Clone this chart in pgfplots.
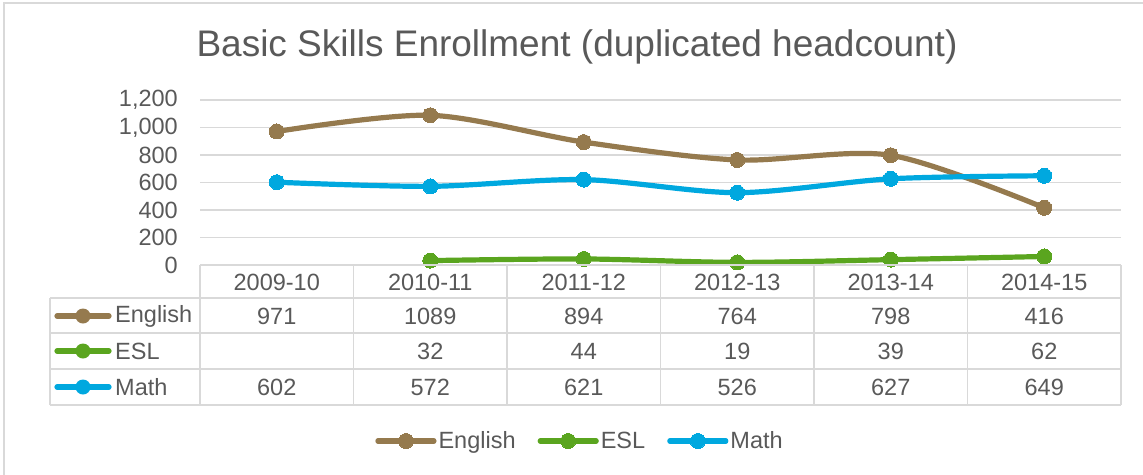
\documentclass[border=0pt]{standalone}
\usepackage{pgfplots}
\pgfplotsset{compat=1.18}
\usepackage{pgfplotstable}
\usepackage{fontspec}
\setmainfont{Liberation Sans}
\definecolor{engc}{HTML}{957A4E}
\definecolor{eslc}{HTML}{5AA51F}
\definecolor{mathc}{HTML}{00A8DF}
\definecolor{txt}{HTML}{595959}
\definecolor{grd}{HTML}{D9D9D9}
\newcommand{\tfont}{\fontsize{23.5}{28}\selectfont}

\pgfplotstableread{
x English ESL Math
0 971  nan 602
1 1089 32  572
2 894  44  621
3 764  19  526
4 798  39  627
5 416  62  649
}\datatable

\begin{document}
\begin{tikzpicture}
\useasboundingbox (0pt,0pt) rectangle (1143pt,-474pt);
\draw[grd, line width=1.5pt] (4pt,-600pt) -- (4pt,-3pt) -- (1300pt,-3pt);
\node[text=txt, font=\fontsize{37}{44}\selectfont, inner sep=0pt] at (577pt,-47pt) {Basic Skills Enrollment (duplicated headcount)};

\begin{axis}[
  at={(200pt,-265pt)}, anchor=south west,
  scale only axis, width=921pt, height=165pt,
  xmin=-0.5, xmax=5.5, ymin=0, ymax=1200,
  ytick={0,200,...,1200}, xtick=\empty,
  ymajorgrids, grid style={grd, line width=1.5pt},
  axis line style={draw=none},
  major tick length=0pt,
  clip=false,
  /pgf/number format/assume math mode=true,
  /pgf/number format/1000 sep={,},
  yticklabel style={font=\tfont, text=txt, inner sep=0pt, anchor=east, xshift=-22pt},
  every axis plot/.append style={line width=5.2pt, smooth, mark=*, mark size=7.5pt, line cap=round, line join=round},
  legend columns=3,
  legend style={at={(0.4126,-1.0667)}, anchor=center, draw=none, fill=none,
    font=\tfont, text=txt,
    nodes={inner sep=2pt},
    /tikz/every even column/.append style={column sep=20pt}},
  legend image code/.code={\draw[mark repeat=2,mark phase=2,#1] plot coordinates {(0pt,0pt)(28pt,0pt)(56pt,0pt)};},
]
\addplot[color=engc, line width=5.2pt, mark options={fill=engc, draw=engc, line width=0pt}] table[x=x, y=English] {\datatable};
\addlegendentry{English}
\addplot[color=eslc, line width=5.2pt, mark options={fill=eslc, draw=eslc, line width=0pt}] table[x=x, y=ESL] {\datatable};
\addlegendentry{ESL}
\addplot[color=mathc, line width=5.2pt, mark options={fill=mathc, draw=mathc, line width=0pt}] table[x=x, y=Math] {\datatable};
\addlegendentry{Math}
\end{axis}

\begin{scope}[x=1pt, y=1pt]
  \begin{scope}[grd, line width=1.5pt]
    \draw (200,-265) -- (1121,-265);
    \foreach \yy in {298,333,369,405} \draw (50,-\yy) -- (1121,-\yy);
    \draw (50,-298) -- (50,-405);
    \foreach \xx in {200,353.5,507,660.5,814,967.5,1121} \draw (\xx,-265) -- (\xx,-405);
  \end{scope}
  \begin{scope}[every node/.style={text=txt, font=\tfont, inner sep=0pt}]
    \foreach \lab [count=\i from 0] in {2009-10,2010-11,2011-12,2012-13,2013-14,2014-15}
      \node at (276.75+153.5*\i,-282) {\lab};
    \foreach \v [count=\i from 0] in {971,1089,894,764,798,416}
      \node at (276.75+153.5*\i,-316) {\v};
    \foreach \v [count=\i from 1] in {32,44,19,39,62}
      \node at (276.75+153.5*\i,-351) {\v};
    \foreach \v [count=\i from 0] in {602,572,621,526,627,649}
      \node at (276.75+153.5*\i,-387) {\v};
    \node[anchor=west] at (115,-316) {English};
    \node[anchor=west] at (115,-351) {ESL};
    \node[anchor=west] at (115,-387) {Math};
  \end{scope}
  \foreach \yy/\cc in {316/engc,351/eslc,387/mathc} {
    \draw[\cc, line width=5.2pt, line cap=round] (57,-\yy) -- (109,-\yy);
    \fill[\cc] (83,-\yy) circle (7.5);
  }
\end{scope}
\end{tikzpicture}
\end{document}
